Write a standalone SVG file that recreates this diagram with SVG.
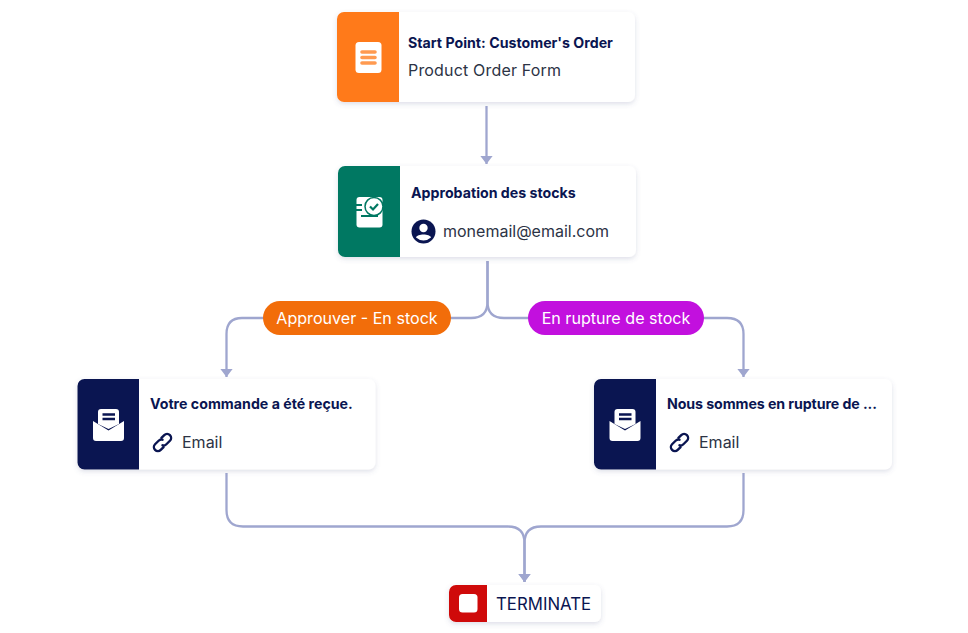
<svg xmlns="http://www.w3.org/2000/svg" width="968" height="633" viewBox="0 0 968 633">
<style>
text{font-family:"Inter","Liberation Sans",sans-serif}
.card{fill:#fff;filter:url(#sh)}
.t{font-size:14.200px;font-weight:700;fill:#0a1551}
.s{font-size:16px;fill:#2c3345}
.p{font-size:16.100px;fill:#fff}
.c{fill:none;stroke:#9fa6cf;stroke-width:2.300}
.w{fill:#fff}
</style>
<defs>
<filter id="sh" x="-10%" y="-20%" width="120%" height="145%"><feDropShadow dx="0" dy="2" stdDeviation="2.500" flood-color="#5a6090" flood-opacity=".2"/></filter>
<marker id="a" markerUnits="userSpaceOnUse" markerWidth="9" markerHeight="13" refX="8.500" refY="6.500" orient="auto" viewBox="0 0 9 13"><path d="M0 0L8.500 6.500 0 13Z" fill="#9fa6cf"/></marker>
<g id="mail"><path class="w" d="M-10.500-18a3 3 0 0 1 3-3H7.500a3 3 0 0 1 3 3V-6L0-1-10.500-6Z"/><path d="M-6-15.500H6.500M-6-11H6.500" stroke="#0a1551" stroke-width="2.500" fill="none"/><path class="w" d="M-15.500-9L0 .5 15.500-9V8a3 3 0 0 1-3 3H-12.500a3 3 0 0 1-3-3Z"/></g>
<g id="link"><g transform="rotate(-45)" fill="none" stroke="#0a1551" stroke-width="2.400" stroke-linecap="round"><path d="M-2.500 4H-6.500a4 4 0 0 1 0-8H-1.500a4 4 0 0 1 3.500 2"/><path d="M2.500-4H6.500a4 4 0 0 1 0 8H1.500a4 4 0 0 1-3.500-2"/></g></g>
</defs>
<rect width="968" height="633" fill="#fff"/>
<g id="connectors">
<path class="c" d="M486.500 106V164" marker-end="url(#a)"/>
<path class="c" d="M487.500 261V302Q487.500 318 471 318H242Q226.500 318 226.500 334V377" marker-end="url(#a)"/>
<path class="c" d="M487.500 261V302Q487.500 318 504 318H727Q743.500 318 743.500 334V377" marker-end="url(#a)"/>
<path class="c" d="M226.500 473V510Q226.500 526.500 243 526.500H508Q524.500 526.500 524.500 543V582" marker-end="url(#a)"/>
<path class="c" d="M743.500 473V510Q743.500 526.500 727 526.500H541Q524.500 526.500 524.500 543V582" marker-end="url(#a)"/>
</g>
<g id="node-start">
<rect class="card" x="337" y="12" width="298" height="90" rx="7"/>
<path d="M399 12H344a7 7 0 0 0-7 7V95a7 7 0 0 0 7 7H399Z" fill="#ff7a1a"/>
<rect class="w" x="355.500" y="42" width="26" height="31" rx="3.500"/>
<path d="M362 52H375M362 57.500H375M362 63H375" stroke="#ff9a50" stroke-width="3.600" stroke-linecap="round"/>
<text class="t" x="408" y="48">Start Point: Customer's Order</text>
<text class="s" x="408" y="75.500" textLength="153">Product Order Form</text>
</g>
<g id="node-approval">
<rect class="card" x="338" y="166" width="298" height="91" rx="7"/>
<path d="M400 166H345a7 7 0 0 0-7 7V250a7 7 0 0 0 7 7H400Z" fill="#007862"/>
<rect class="w" x="356.500" y="197" width="26" height="30.500" rx="3"/>
<circle cx="374" cy="206.500" r="9" fill="#fff" stroke="#007862" stroke-width="1.500"/>
<path d="M370 206.500L373 209.500 378 204" fill="none" stroke="#007862" stroke-width="2.200"/>
<path d="M356 205H362M356 210H362M361 216H378" stroke="#007862" stroke-width="1.800" fill="none"/>
<text class="t" x="411" y="198">Approbation des stocks</text>
<circle cx="423.500" cy="231.500" r="12" fill="#0a1551"/>
<circle cx="423.500" cy="228" r="4.200" fill="#fff"/>
<path class="w" d="M416 237.500C417 233.500 430 233.500 431 237.500Q427.500 240.500 423.500 240.500T416 237.500Z"/>
<text class="s" x="443" y="237">monemail@email.com</text>
</g>
<g id="label-approve">
<rect x="263" y="301" width="188" height="34" rx="17" fill="#f26d0a"/>
<text class="p" x="357" y="324" text-anchor="middle">Approuver - En stock</text>
</g>
<g id="label-out">
<rect x="528" y="301" width="176" height="34" rx="17" fill="#c210de"/>
<text class="p" x="616" y="324" text-anchor="middle">En rupture de stock</text>
</g>
<g id="node-received">
<rect class="card" x="77.500" y="379" width="298" height="90.500" rx="7"/>
<path d="M139 379H84.500a7 7 0 0 0-7 7V462.500a7 7 0 0 0 7 7H139Z" fill="#0a1551"/>
<use href="#mail" x="108.500" y="430"/>
<text class="t" x="150" y="409">Votre commande a été reçue.</text>
<use href="#link" x="162.500" y="442.500"/>
<text class="s" x="182" y="448">Email</text>
</g>
<g id="node-outofstock">
<rect class="card" x="594" y="379" width="298" height="90.500" rx="7"/>
<path d="M656 379H601a7 7 0 0 0-7 7V462.500a7 7 0 0 0 7 7H656Z" fill="#0a1551"/>
<use href="#mail" x="625" y="430"/>
<text class="t" x="667" y="409" textLength="210">Nous sommes en rupture de ...</text>
<use href="#link" x="679.500" y="442.500"/>
<text class="s" x="699" y="448">Email</text>
</g>
<g id="node-terminate">
<rect class="card" x="449" y="585" width="152" height="37" rx="6"/>
<path d="M487 585H456a7 7 0 0 0-7 7V615a7 7 0 0 0 7 7H487Z" fill="#cf0a0a"/>
<rect class="w" x="459" y="594" width="18.500" height="18.500" rx="3.500"/>
<text x="496" y="610" font-size="16.800" fill="#0a1551">TERMINATE</text>
</g>
</svg>
